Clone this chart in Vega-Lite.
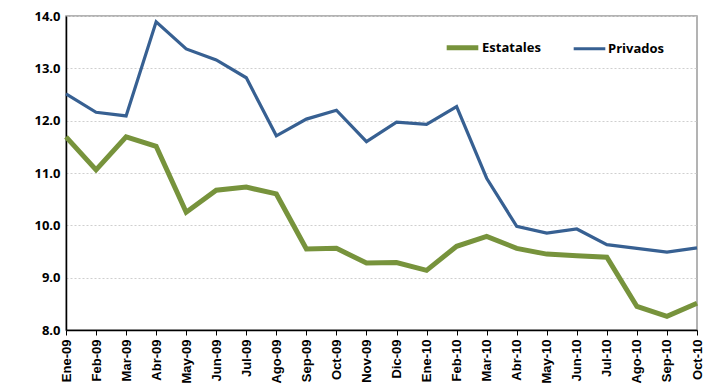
{
  "$schema": "https://vega.github.io/schema/vega-lite/v6.json",
  "width": 631,
  "height": 314,
  "autosize": {"type": "none"},
  "padding": {"left": 66, "top": 16, "right": 10, "bottom": 57},
  "background": "white",
  "config": {
    "view": {"stroke": "#9a9a9a", "strokeWidth": 1.5}
  },
  "data": {
    "values": [
      {"mes": "Ene-09", "serie": "Privados", "valor": 12.51},
      {"mes": "Feb-09", "serie": "Privados", "valor": 12.16},
      {"mes": "Mar-09", "serie": "Privados", "valor": 12.09},
      {"mes": "Abr-09", "serie": "Privados", "valor": 13.89},
      {"mes": "May-09", "serie": "Privados", "valor": 13.37},
      {"mes": "Jun-09", "serie": "Privados", "valor": 13.16},
      {"mes": "Jul-09", "serie": "Privados", "valor": 12.82},
      {"mes": "Ago-09", "serie": "Privados", "valor": 11.71},
      {"mes": "Sep-09", "serie": "Privados", "valor": 12.03},
      {"mes": "Oct-09", "serie": "Privados", "valor": 12.2},
      {"mes": "Nov-09", "serie": "Privados", "valor": 11.6},
      {"mes": "Dic-09", "serie": "Privados", "valor": 11.97},
      {"mes": "Ene-10", "serie": "Privados", "valor": 11.93},
      {"mes": "Feb-10", "serie": "Privados", "valor": 12.27},
      {"mes": "Mar-10", "serie": "Privados", "valor": 10.9},
      {"mes": "Abr-10", "serie": "Privados", "valor": 9.98},
      {"mes": "May-10", "serie": "Privados", "valor": 9.85},
      {"mes": "Jun-10", "serie": "Privados", "valor": 9.93},
      {"mes": "Jul-10", "serie": "Privados", "valor": 9.63},
      {"mes": "Ago-10", "serie": "Privados", "valor": 9.56},
      {"mes": "Sep-10", "serie": "Privados", "valor": 9.49},
      {"mes": "Oct-10", "serie": "Privados", "valor": 9.57},
      {"mes": "Ene-09", "serie": "Estatales", "valor": 11.69},
      {"mes": "Feb-09", "serie": "Estatales", "valor": 11.06},
      {"mes": "Mar-09", "serie": "Estatales", "valor": 11.69},
      {"mes": "Abr-09", "serie": "Estatales", "valor": 11.51},
      {"mes": "May-09", "serie": "Estatales", "valor": 10.25},
      {"mes": "Jun-09", "serie": "Estatales", "valor": 10.67},
      {"mes": "Jul-09", "serie": "Estatales", "valor": 10.73},
      {"mes": "Ago-09", "serie": "Estatales", "valor": 10.6},
      {"mes": "Sep-09", "serie": "Estatales", "valor": 9.55},
      {"mes": "Oct-09", "serie": "Estatales", "valor": 9.56},
      {"mes": "Nov-09", "serie": "Estatales", "valor": 9.28},
      {"mes": "Dic-09", "serie": "Estatales", "valor": 9.29},
      {"mes": "Ene-10", "serie": "Estatales", "valor": 9.14},
      {"mes": "Feb-10", "serie": "Estatales", "valor": 9.6},
      {"mes": "Mar-10", "serie": "Estatales", "valor": 9.79},
      {"mes": "Abr-10", "serie": "Estatales", "valor": 9.56},
      {"mes": "May-10", "serie": "Estatales", "valor": 9.45},
      {"mes": "Jun-10", "serie": "Estatales", "valor": 9.42},
      {"mes": "Jul-10", "serie": "Estatales", "valor": 9.39},
      {"mes": "Ago-10", "serie": "Estatales", "valor": 8.45},
      {"mes": "Sep-10", "serie": "Estatales", "valor": 8.26},
      {"mes": "Oct-10", "serie": "Estatales", "valor": 8.51}
    ]
  },
  "mark": {"type": "line", "strokeJoin": "miter", "strokeCap": "butt"},
  "encoding": {
    "x": {
      "field": "mes",
      "type": "ordinal",
      "sort": null,
      "scale": {"type": "point", "padding": 0},
      "axis": {
        "title": null,
        "labelAngle": -90,
        "labelAlign": "right",
        "labelBaseline": "middle",
        "labelFont": "Liberation Sans",
        "labelFontWeight": "bold",
        "labelFontSize": 13,
        "labelColor": "black",
        "labelPadding": 4,
        "domainColor": "black",
        "domainWidth": 1.5,
        "tickColor": "black",
        "tickSize": 5,
        "grid": false
      }
    },
    "y": {
      "field": "valor",
      "type": "quantitative",
      "scale": {"domain": [8, 14], "nice": false, "zero": false},
      "axis": {
        "title": null,
        "values": [8, 9, 10, 11, 12, 13, 14],
        "format": ".1f",
        "labelFont": "Open Sans",
        "labelFontWeight": "bold",
        "labelFontSize": 13,
        "labelColor": "black",
        "labelPadding": 6,
        "domainColor": "black",
        "domainWidth": 1.5,
        "ticks": false,
        "gridColor": "#cfcfcf",
        "gridDash": [2, 2],
        "gridWidth": 1
      }
    },
    "color": {
      "field": "serie",
      "type": "nominal",
      "sort": ["Estatales", "Privados"],
      "scale": {"domain": ["Estatales", "Privados"], "range": ["#77933C", "#376092"]},
      "legend": {
        "title": null,
        "orient": "none",
        "legendX": 378,
        "legendY": 13,
        "direction": "horizontal",
        "symbolType": "stroke",
        "symbolSize": 1000,
        "symbolStrokeWidth": 4,
        "labelFont": "Open Sans",
        "labelFontWeight": "bold",
        "labelFontSize": 13,
        "labelColor": "black",
        "labelOffset": 1,
        "columnPadding": 26
      }
    },
    "strokeWidth": {
      "field": "serie",
      "type": "nominal",
      "scale": {"domain": ["Estatales", "Privados"], "range": [5, 3.2]},
      "legend": null
    }
  }
}
